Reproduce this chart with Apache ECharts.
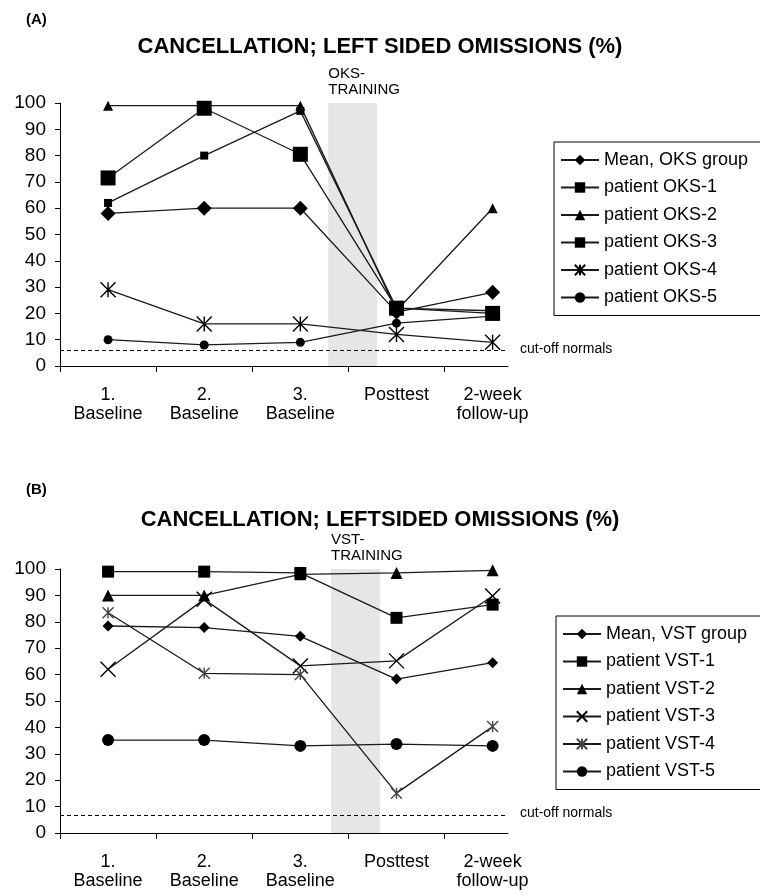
<!DOCTYPE html>
<html><head><meta charset="utf-8">
<script src="https://cdn.jsdelivr.net/npm/echarts@6/dist/echarts.min.js"></script>
<style>html,body{margin:0;padding:0;background:#fff}#c{width:760px;height:896px}</style>
</head><body><div id="c"></div>
<script>
// ---- data ----
const categories = ['1.\nBaseline', '2.\nBaseline', '3.\nBaseline', 'Posttest', '2-week\nfollow-up'];
const yTickValues = [0, 10, 20, 30, 40, 50, 60, 70, 80, 90, 100];

const oksNames = ['Mean, OKS group', 'patient OKS-1', 'patient OKS-2', 'patient OKS-3', 'patient OKS-4', 'patient OKS-5'];
const oksMean = [58, 60, 60, 20.5, 28];
const oks1 = [62, 80, 97, 22, 21];
const oks2 = [99, 99, 99, 21, 60];
const oks3 = [71.5, 98, 80.5, 22, 20];
const oks4 = [29, 16, 16, 12, 9];
const oks5 = [10, 8, 9, 16.3, 19];
const oksCutoff = 5.8;
const oksBand = [2.79, 3.30];

const vstNames = ['Mean, VST group', 'patient VST-1', 'patient VST-2', 'patient VST-3', 'patient VST-4', 'patient VST-5'];
const vstMean = [78.4, 77.8, 74.5, 58.3, 64.5];
const vst1 = [99, 99, 98.5, 81.5, 86.5];
const vst2 = [90, 90, 98, 98.5, 99.5];
const vst3 = [62, 88.5, 63.3, 65.2, 89.8];
const vst4 = [83.4, 60.5, 60, 15.1, 40.3];
const vst5 = [35.2, 35.2, 33, 33.7, 33];
const vstCutoff = 6.6;
const vstBand = [2.82, 3.33];

// ---- chart ----
const FONT = 'Liberation Sans, Arial, sans-serif';
const XMAX = 4.66;
const STAR = 'path://M0,0L10,10M10,0L0,10M5,0L5,10';
const CROSS = 'path://M0,0L10,10M10,0L0,10';

function line(name, values, g, symbol, size, extra) {
  const s = {
    name: name, type: 'line', xAxisIndex: g, yAxisIndex: g, z: 5,
    data: values.map((v, i) => [i + 0.5, v]),
    symbol: symbol, symbolSize: size, showSymbol: true,
    lineStyle: { color: '#1a1a1a', width: 1.3 },
    itemStyle: { color: '#000', borderColor: '#000', borderWidth: 0 },
    emphasis: { disabled: true }, animation: false
  };
  if (extra && extra.stroke) {
    s.itemStyle = { color: 'none', borderColor: extra.stroke, borderWidth: 1.4 };
  }
  return s;
}

function deco(g, band, cutoff, label) {
  return {
    type: 'line', xAxisIndex: g, yAxisIndex: g, data: [], z: 1, silent: true, animation: false,
    markArea: {
      silent: true,
      itemStyle: { color: '#e6e6e6' },
      label: { show: true, formatter: label, position: [0, -37], align: 'left', verticalAlign: 'top',
               fontFamily: FONT, fontSize: 15, lineHeight: 16, color: '#000' },
      data: [[{ xAxis: band[0], yAxis: 0 }, { xAxis: band[1], yAxis: 100 }]]
    },
    markLine: {
      silent: true, symbol: ['none', 'none'],
      lineStyle: { type: [4, 3], color: '#000', width: 1 },
      label: { show: true, position: 'end', formatter: 'cut-off normals', distance: 12,
               fontFamily: FONT, fontSize: 14, color: '#000', offset: [0, -2] },
      data: [[{ coord: [0, cutoff] }, { coord: [XMAX, cutoff] }]]
    }
  };
}

function xAxis(g) {
  return {
    type: 'value', gridIndex: g, min: 0, max: XMAX, interval: 1,
    axisLine: { show: true, lineStyle: { color: '#000', width: 1 } },
    axisTick: { show: true, length: 6, customValues: [0, 1, 2, 3, 4], lineStyle: { color: '#000' } },
    axisLabel: { customValues: [0.5, 1.5, 2.5, 3.5, 4.5], formatter: v => categories[Math.floor(v)],
                 fontFamily: FONT, fontSize: 18, lineHeight: 19, margin: 20, color: '#000' },
    splitLine: { show: false }
  };
}
function yAxis(g) {
  return {
    type: 'value', gridIndex: g, min: yTickValues[0], max: yTickValues[yTickValues.length - 1], interval: 10,
    axisLine: { show: true, lineStyle: { color: '#000', width: 1 } },
    axisTick: { show: true, length: 5, lineStyle: { color: '#000' } },
    axisLabel: { fontFamily: FONT, fontSize: 19, margin: 14, color: '#000' },
    splitLine: { show: false }
  };
}
function legend(names, left, top) {
  return {
    data: names, orient: 'vertical', left: left, top: top,
    itemWidth: 38, itemHeight: 13, itemGap: 9.5,
    borderColor: '#000', borderWidth: 1, padding: [9, 60, 9, 6],
    textStyle: { fontFamily: FONT, fontSize: 18, color: '#000' },
    selectedMode: false
  };
}

const option = {
  backgroundColor: '#fff',
  animation: false,
  title: [
    { text: '(A)', left: 26, top: 12, padding: 0, textStyle: { fontFamily: FONT, fontSize: 15, fontWeight: 'bold', color: '#000' } },
    { text: 'CANCELLATION; LEFT SIDED OMISSIONS (%)', left: 'center', top: 36, padding: 0,
      textStyle: { fontFamily: FONT, fontSize: 22, fontWeight: 'bold', color: '#000' } },
    { text: '(B)', left: 26, top: 482, padding: 0, textStyle: { fontFamily: FONT, fontSize: 15, fontWeight: 'bold', color: '#000' } },
    { text: 'CANCELLATION; LEFTSIDED OMISSIONS (%)', left: 'center', top: 509, padding: 0,
      textStyle: { fontFamily: FONT, fontSize: 22, fontWeight: 'bold', color: '#000' } }
  ],
  grid: [
    { left: 60, right: 760 - 508, top: 103, bottom: 896 - 366 },
    { left: 60, right: 760 - 508, top: 569, bottom: 896 - 833 }
  ],
  xAxis: [xAxis(0), xAxis(1)],
  yAxis: [yAxis(0), yAxis(1)],
  legend: [legend(oksNames, 554, 142), legend(vstNames, 556, 616)],
  series: [
    deco(0, oksBand, oksCutoff, 'OKS-\nTRAINING'),
    deco(1, vstBand, vstCutoff, 'VST-\nTRAINING'),
    line(oksNames[0], oksMean, 0, 'diamond', 15),
    line(oksNames[1], oks1, 0, 'rect', 8),
    line(oksNames[2], oks2, 0, 'triangle', 10),
    line(oksNames[3], oks3, 0, 'rect', 15),
    line(oksNames[4], oks4, 0, STAR, 15, { stroke: '#000' }),
    line(oksNames[5], oks5, 0, 'circle', 9),
    line(vstNames[0], vstMean, 1, 'diamond', 11),
    line(vstNames[1], vst1, 1, 'rect', 12),
    line(vstNames[2], vst2, 1, 'triangle', 12),
    line(vstNames[3], vst3, 1, CROSS, 15, { stroke: '#000' }),
    line(vstNames[4], vst4, 1, STAR, 11, { stroke: '#444' }),
    line(vstNames[5], vst5, 1, 'circle', 12)
  ]
};
const chart = echarts.init(document.getElementById('c'), null, { renderer: 'canvas' });
chart.setOption(option);
</script>
</body></html>
